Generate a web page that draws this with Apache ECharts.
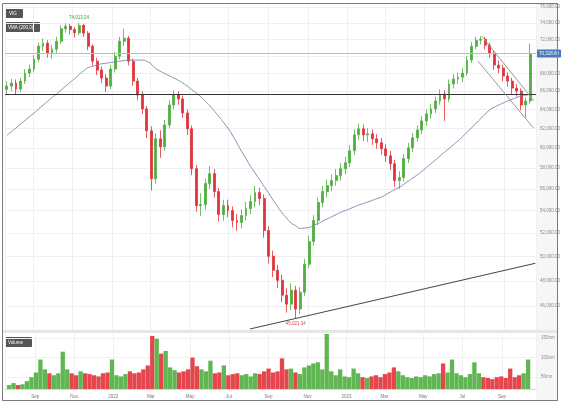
<!DOCTYPE html>
<html><head><meta charset="utf-8">
<script src="https://cdn.jsdelivr.net/npm/echarts@6/dist/echarts.min.js"></script>
<style>html,body{margin:0;padding:0;background:#fff}#c{width:564px;height:408px}</style>
</head><body><div id="c"></div><script>
const opens = [66200, 66560, 66900, 66230, 67120, 68030, 68490, 69640, 71170, 71530,
 70340, 70820, 71770, 73300, 73600, 73200, 72800, 73700, 72740, 71170,
 69410, 68370, 67460, 66560, 68490, 69990, 71770, 72130, 69410, 67120,
 65570, 64060, 61740, 56980, 60920, 60110, 62360, 64490, 65570, 65140,
 63630, 61950, 57940, 54460, 54550, 56510, 57460, 55760, 53650, 54460,
 54010, 53120, 52940, 53560, 54190, 54830, 55660, 55110, 52230, 50010,
 48850, 48040, 46850, 46150, 47250, 45770, 47090, 49350, 51280, 53120,
 54740, 55760, 56320, 56790, 57270, 57940, 58520, 59710, 61330, 61950,
 61330, 61430, 60920, 60520, 59910, 59210, 58430, 56790, 57080, 58920,
 60010, 61020, 61840, 62780, 63520, 64060, 64920, 65680, 65140, 66790,
 67350, 67570, 68030, 69530, 71170, 71890, 72010, 71290, 70340, 68950,
 68600, 67690, 67120, 66340, 66010, 64490, 64920];
const closes = [66560, 66900, 66230, 67120, 68030, 68490, 69640, 71170, 71530, 70340,
 70820, 71770, 73300, 73600, 73200, 72800, 73700, 72740, 71170, 69410,
 68370, 67460, 66560, 68490, 69990, 71770, 72130, 69410, 67120, 65570,
 64060, 61740, 56980, 60920, 60110, 62360, 64490, 65570, 65140, 63630,
 61950, 57940, 54460, 54550, 56510, 57460, 55760, 53650, 54460, 54010,
 53120, 52940, 53560, 54190, 54830, 55660, 55110, 52230, 50010, 48850,
 48040, 46850, 46150, 47250, 45770, 47090, 49350, 51280, 53120, 54740,
 55760, 56320, 56790, 57270, 57940, 58520, 59710, 61330, 61950, 61330,
 61430, 60920, 60520, 59910, 59210, 58430, 56790, 57080, 58920, 60010,
 61020, 61840, 62780, 63520, 64060, 64920, 65680, 65140, 66790, 67350,
 67570, 68030, 69530, 71170, 71890, 72010, 71290, 70340, 68950, 68600,
 67690, 67120, 66340, 66010, 64490, 64920, 70318.6];
const lows = [65700, 66000, 65600, 65900, 66800, 67600, 68100, 69300, 70600, 69800,
 69700, 70400, 71400, 72800, 72600, 72200, 72500, 72300, 70700, 68900,
 67800, 66900, 65900, 66200, 68100, 69600, 71200, 68900, 66600, 65000,
 63500, 61000, 55850, 56500, 59000, 59700, 62000, 64000, 64500, 63100,
 61300, 57300, 53900, 53500, 54100, 56000, 55200, 53000, 53100, 53400,
 52500, 52200, 52400, 53100, 53700, 54300, 54500, 51600, 49400, 48300,
 47400, 46300, 45500, 45700, 45021.34, 45400, 46800, 49000, 50900, 52700,
 54300, 55200, 55800, 56300, 56800, 57400, 58100, 59300, 60800, 60700,
 60600, 60300, 59900, 59300, 58600, 57800, 56200, 56000, 56700, 58500,
 59600, 60600, 61400, 62300, 63000, 63600, 64500, 62780, 64800, 66300,
 66800, 67000, 67700, 69200, 70800, 71400, 70800, 69800, 68400, 68000,
 67100, 66500, 65700, 65400, 63900, 63100, 64600];
const highs = [67100, 67400, 67300, 67500, 68500, 69000, 70100, 71600, 72100, 71900,
 71300, 72300, 73700, 73950, 73900, 73500, 74013.24, 73900, 73000, 71400,
 69800, 68800, 67900, 69000, 70500, 72300, 73300, 72400, 69700, 67500,
 66000, 64400, 62200, 61500, 61800, 62900, 65000, 66100, 66000, 65500,
 64000, 62300, 58300, 55600, 57000, 58200, 57900, 56100, 55000, 55000,
 54400, 53700, 54100, 54800, 55400, 56300, 56100, 55500, 52600, 50500,
 49300, 48500, 47400, 47800, 47600, 47500, 49800, 51800, 53600, 55200,
 56300, 56900, 57400, 57900, 58500, 59100, 60300, 61900, 62500, 62400,
 62000, 61900, 61400, 61000, 60400, 59700, 58800, 57700, 59400, 60500,
 61500, 62300, 63300, 64000, 64600, 65400, 66200, 66100, 67300, 67900,
 68100, 68600, 70000, 71700, 72300, 72400, 72300, 71600, 70600, 69500,
 69000, 68100, 67500, 66800, 66300, 65300, 71500];
const volumes = [30, 35, 30, 32, 40, 50, 62, 95, 70, 60,
 55, 60, 115, 70, 60, 55, 65, 60, 58, 55,
 52, 60, 62, 95, 55, 52, 58, 65, 60, 62,
 70, 80, 155, 148, 110, 117, 75, 68, 62, 65,
 70, 100, 78, 70, 65, 92, 60, 62, 80, 55,
 58, 60, 55, 58, 52, 60, 58, 65, 72, 62,
 65, 98, 70, 72, 62, 58, 75, 80, 85, 88,
 70, 160, 65, 55, 70, 52, 50, 72, 60, 50,
 48, 52, 55, 50, 58, 62, 75, 65, 55, 50,
 48, 52, 50, 55, 52, 58, 60, 85, 62, 95,
 60, 55, 50, 58, 88, 60, 50, 48, 45, 50,
 52, 48, 72, 50, 55, 60, 95];
const ma200 = [61260, 61660, 62040, 62440, 62820, 63230, 63610, 64030, 64460, 64870,
 65290, 65700, 66120, 66550, 66980, 67400, 67850, 68280, 68650, 68810,
 68960, 69100, 69170, 69250, 69330, 69400, 69480, 69530, 69530, 69530,
 69530, 69390, 69040, 68570, 68240, 67980, 67720, 67470, 67210, 66900,
 66550, 66150, 65780, 65370, 64880, 64390, 63810, 63240, 62630, 62020,
 61300, 60480, 59670, 58920, 58170, 57520, 56880, 56240, 55610, 54980,
 54370, 53800, 53320, 52890, 52650, 52410, 52450, 52490, 52690, 52850,
 53060, 53250, 53450, 53650, 53850, 54010, 54170, 54340, 54500, 54650,
 54790, 54940, 55090, 55240, 55470, 55710, 55950, 56170, 56450, 56750,
 57050, 57350, 57690, 58060, 58430, 58800, 59180, 59560, 59940, 60320,
 60720, 61150, 61590, 62060, 62530, 63000, 63480, 63960, 64240, 64470,
 64700, 64920, 65110, 65290, 65480, 65550, 65640];
const priceTicks = [46000, 48000, 50000, 52000, 54000, 56000, 58000, 60000, 62000, 64000, 66000, 68000, 70000, 72000, 74000, 76000];
const volumeTicks = [50, 100, 150];
const monthNames = ['Jan','Feb','Mar','Apr','May','Jun','Jul','Aug','Sep','Oct','Nov','Dec'];
const supportLevel = 65700;
const trendLine = [['2022-08-03', 44264], ['2023-10-20', 49430]];
const channelUpper = [['2023-07-29', 72375], ['2023-10-18', 64920]];
const channelLower = [['2023-07-23', 69410], ['2023-10-17', 62050]];

const dates = closes.map((_, i) => new Date(Date.UTC(2021, 6, 22 + 7 * i)).toISOString().slice(0, 10));
const fmt = v => Number(v).toLocaleString('en-US', {minimumFractionDigits: 2, maximumFractionDigits: 2});
const UP = '#4fae3f', DOWN = '#e2323a';
const FONT = 'Liberation Sans';
const n = closes.length;
const hiIdx = highs.indexOf(Math.max(...highs));
const loIdx = lows.indexOf(Math.min(...lows));
const timeLabel = v => { const d = new Date(v); return d.getMonth() === 0 ? String(d.getFullYear()) : monthNames[d.getMonth()]; };

const chart = echarts.init(document.getElementById('c'), null, {renderer: 'canvas'});
const xMin = '2021-07-19', xMax = '2023-10-21';
chart.setOption({
  animation: false,
  backgroundColor: '#fff',
  textStyle: {fontFamily: FONT},
  graphic: [
    {type: 'rect', shape: {x: 536, y: 4, width: 21, height: 396}, style: {fill: '#f6f6f6'}, z: -5, silent: true},
    {type: 'rect', shape: {x: 3, y: 330, width: 554, height: 3}, style: {fill: '#e6e6e6'}, z: -5},
    {type: 'rect', shape: {x: 2.5, y: 3.5, width: 555, height: 397}, style: {fill: 'none', stroke: '#7a7a7a', lineWidth: 1}, z: 100},
    {type: 'group', left: 5, top: 9, children: [
      {type: 'rect', shape: {x: 0, y: 0, width: 18, height: 9, r: 1}, style: {fill: '#555'}},
      {type: 'text', style: {x: 4, y: 2.5, text: 'VIG', fill: '#fff', font: '4.5px ' + FONT}}
    ]},
    {type: 'group', left: 5, top: 22, children: [
      {type: 'rect', shape: {x: 0, y: 0, width: 35, height: 10, r: 1}, style: {fill: '#555'}},
      {type: 'text', style: {x: 3, y: 3, text: 'VMA (200,0)', fill: '#fff', font: '4.5px ' + FONT}}
    ]},
    {type: 'group', left: 5, top: 337, children: [
      {type: 'rect', shape: {x: 0, y: 0, width: 27, height: 10, r: 1}, style: {fill: '#555'}},
      {type: 'text', style: {x: 3, y: 3, text: 'Volume', fill: '#fff', font: '4.5px ' + FONT}}
    ]}
  ],
  grid: [
    {left: 5, right: 28, top: 4, height: 326},
    {left: 5, right: 28, top: 334, height: 55}
  ],
  xAxis: [
    {type: 'time', gridIndex: 0, min: xMin, max: xMax, splitNumber: 12,
      axisLine: {show: false}, axisTick: {show: false},
      axisLabel: {show: false},
      splitLine: {show: true, lineStyle: {color: '#f0f1f4', width: 1}}},
    {type: 'time', gridIndex: 1, min: xMin, max: xMax, splitNumber: 12,
      axisLine: {show: true, lineStyle: {color: '#d8d8d8'}}, axisTick: {show: false},
      axisLabel: {fontSize: 4.5, color: '#777', margin: 5, formatter: timeLabel, hideOverlap: false},
      splitLine: {show: true, lineStyle: {color: '#f0f1f4', width: 1}}}
  ],
  yAxis: [
    {type: 'log', gridIndex: 0, position: 'right', min: 44190, max: 76400, logBase: 10,
      axisLine: {show: false}, axisTick: {show: false, customValues: priceTicks},
      axisLabel: {customValues: priceTicks.filter(v => v !== 70000), fontSize: 4.5, color: '#888', margin: 4, formatter: v => fmt(v)},
      splitLine: {show: true, lineStyle: {color: '#eef0f3', width: 1}}},
    {type: 'value', gridIndex: 1, position: 'right', min: 20, max: 160,
      axisLine: {show: false}, axisTick: {show: false, customValues: volumeTicks},
      axisLabel: {customValues: volumeTicks, fontSize: 4.5, color: '#888', margin: 5, formatter: v => v + 'mn'},
      splitLine: {show: true, lineStyle: {color: '#f0f1f4', width: 1}}}
  ],
  series: [
    {type: 'candlestick', xAxisIndex: 0, yAxisIndex: 0, barWidth: 2.4,
      data: dates.map((d, i) => [d, opens[i], closes[i], lows[i], highs[i]]),
      itemStyle: {color: UP, color0: DOWN, borderColor: UP, borderColor0: DOWN, borderWidth: 0.8},
      markPoint: {
        symbol: 'circle', symbolSize: 1, itemStyle: {color: 'rgba(0,0,0,0)'},
        data: [
          {coord: [dates[hiIdx], highs[hiIdx]], value: highs[hiIdx],
            label: {show: true, position: 'top', distance: 2, formatter: p => fmt(p.value), color: '#3b9b3b', fontSize: 4.5}},
          {coord: [dates[loIdx], lows[loIdx]], value: lows[loIdx],
            label: {show: true, position: 'bottom', distance: 2, formatter: p => fmt(p.value), color: '#e0405a', fontSize: 4.5}}
        ]
      },
      markLine: {
        silent: true, symbol: ['none', 'none'], animation: false,
        data: [
          {yAxis: supportLevel, lineStyle: {color: '#333', width: 1, type: 'solid'}, label: {show: false}},
          {yAxis: closes[n - 1], lineStyle: {color: '#a9c0de', width: 1, type: 'solid'},
            label: {show: true, position: 'end', distance: 1, formatter: p => fmt(p.value), color: '#fff', backgroundColor: '#4a78b8', padding: [1.5, 2], borderRadius: 1, fontSize: 4.5}},
          [{coord: trendLine[0], lineStyle: {color: '#444', width: 1, type: 'solid'}, label: {show: false}}, {coord: trendLine[1]}],
          [{coord: channelUpper[0], lineStyle: {color: '#999', width: 1, type: 'solid'}, label: {show: false}}, {coord: channelUpper[1]}],
          [{coord: channelLower[0], lineStyle: {color: '#999', width: 1, type: 'solid'}, label: {show: false}}, {coord: channelLower[1]}]
        ]
      }
    },
    {type: 'line', xAxisIndex: 0, yAxisIndex: 0, data: dates.map((d, i) => [d, ma200[i]]),
      showSymbol: false, smooth: true, lineStyle: {color: '#7486a6', width: 0.9}, z: 3},
    {type: 'bar', xAxisIndex: 1, yAxisIndex: 1, barWidth: 4.3,
      data: dates.map((d, i) => [d, volumes[i]]),
      itemStyle: {color: p => closes[p.dataIndex] >= opens[p.dataIndex] ? 'rgba(79,174,63,0.9)' : 'rgba(226,50,58,0.9)'}}
  ]
});
</script></body></html>
